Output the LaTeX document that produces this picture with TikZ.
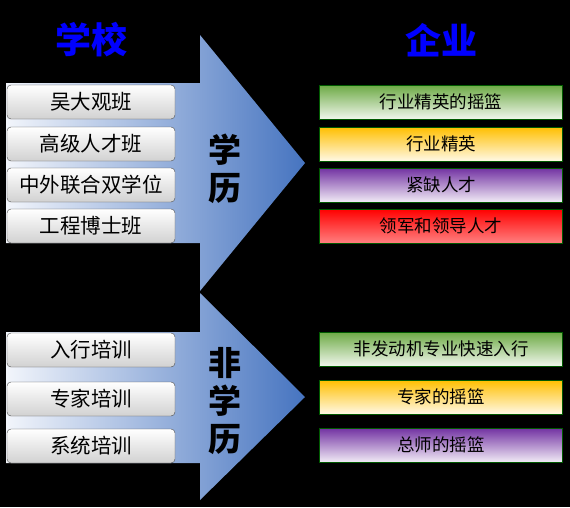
\documentclass[tikz,border=0pt]{standalone}
\usepackage{fontspec}
\setmainfont{Noto Sans CJK SC}
\definecolor{arrowblue}{HTML}{4674C0}
\definecolor{arrowlight}{HTML}{F2F5FB}
\definecolor{elitegreen}{HTML}{6DAA45}
\definecolor{eliteyellow}{HTML}{FFBF00}
\definecolor{elitepurple}{HTML}{7232A2}
\definecolor{elitered}{HTML}{FF0000}
\begin{document}
\begin{tikzpicture}[
    x=1pt, y=-1pt,
    src/.style={draw=black!70, rounded corners=4pt, top color=white, bottom color=black!18, minimum width=168pt, minimum height=34pt, inner sep=0pt, font=\fontsize{20.5}{20.5}\selectfont},
    dst/.style={draw=green!35!black, top color=#1, bottom color=#1!10!white, minimum width=243pt, minimum height=34pt, inner sep=0pt, font=\fontsize{17.5}{17.5}\selectfont},
    title/.style={text=blue, font=\fontsize{36}{36}\selectfont\bfseries},
    tag/.style={align=center, font=\fontsize{33}{38}\selectfont\bfseries}
]
    % Background
    \fill[black] (0,0) rectangle (570,507);
    \useasboundingbox (0,0) rectangle (570,507);

    % Titles
    \node[title] (school) at (91,40) {学校};
    \node[title] (company) at (441,40) {企业};

    % Arrows
    \shade[left color=arrowlight, right color=arrowblue] (6,83) -- (200,83) -- (200,35) -- (305,163) -- (200,291) -- (200,243) -- (6,243) -- cycle;
    \shade[left color=arrowlight, right color=arrowblue] (6,332) -- (200,332) -- (200,293) -- (305,397) -- (200,500) -- (200,463) -- (6,463) -- cycle;

    % Degree programmes
    \node[src] (wdg) at (91,102) {吴大观班};
    \node[src] (gjrc) at (91,144) {高级人才班};
    \node[src] (zwlh) at (91,185) {中外联合双学位};
    \node[src] (gcbs) at (91,226) {工程博士班};
    \node[tag] (degree) at (225,169) {学\\历};

    % Non-degree training
    \node[src] (rhpx) at (91,350) {入行培训};
    \node[src] (zjpx) at (91,399) {专家培训};
    \node[src] (xtpx) at (91,446) {系统培训};
    \node[tag] (nondegree) at (225,401) {非\\学\\历};

    % Outcomes
    \node[dst=elitegreen] (cradle) at (441,102) {行业精英的摇篮};
    \node[dst=eliteyellow] (elite) at (441,144) {行业精英};
    \node[dst=elitepurple] (scarce) at (441,185) {紧缺人才};
    \node[dst=elitered, bottom color=elitered!50!white] (leader) at (441,226) {领军和领导人才};
    \node[dst=elitegreen] (fastin) at (441,349) {非发动机专业快速入行};
    \node[dst=eliteyellow] (expert) at (441,397) {专家的摇篮};
    \node[dst=elitepurple] (chief) at (441,445) {总师的摇篮};
\end{tikzpicture}
\end{document}
